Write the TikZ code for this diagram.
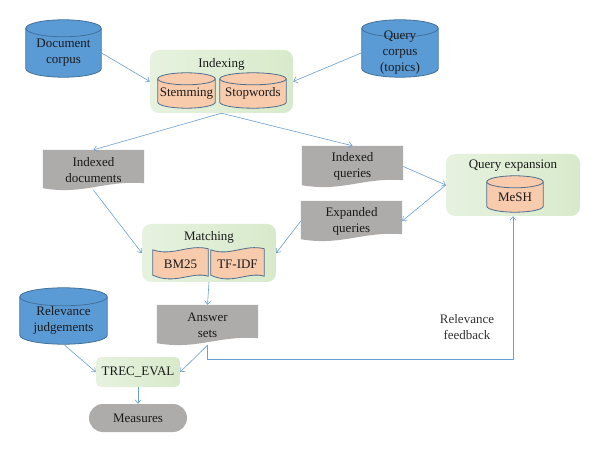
\documentclass[tikz,border=0pt]{standalone}
\usepackage{fontspec}
\setmainfont{Liberation Serif}
\usetikzlibrary{calc,arrows.meta}
\pgfdeclarelayer{back}
\pgfdeclarelayer{mid}
\pgfsetlayers{back,mid,main}
\definecolor{cblue}{HTML}{5B9BD5}
\definecolor{cbluedark}{HTML}{41719C}
\definecolor{peach}{HTML}{F8CBAD}
\definecolor{pdraw}{HTML}{4E6E8E}
\definecolor{docgray}{HTML}{AEABAB}
\definecolor{greenA}{HTML}{E6F2DF}
\definecolor{greenB}{HTML}{D8EACB}
\definecolor{arrowblue}{HTML}{6A9FD4}
\definecolor{txt}{HTML}{1A1A1A}
\newcommand\cylshape[4]{% node, fill, draw, ry
  \path[fill=#2,draw=#3,line width=0.8pt] let \p1=(#1.south west), \p2=(#1.north east), \n1={(\x2-\x1)/2} in
    (\x1,\y2) -- (\x1,\y1+#4) arc[start angle=180,end angle=360,x radius=\n1,y radius=#4]
    -- (\x2,\y2) arc[start angle=0,end angle=180,x radius=\n1,y radius=#4] -- cycle;
  \path[draw=#3,line width=0.8pt] let \p1=(#1.south west), \p2=(#1.north east), \n1={(\x2-\x1)/2} in
    (\x1,\y2) arc[start angle=180,end angle=360,x radius=\n1,y radius=#4];
}
\newcommand\docshape[1]{%
  \path[fill=docgray] let \p1=(#1.south west), \p2=(#1.north east), \n1={\x2-\x1} in
    (\x1,\y2) -- (\x2,\y2) -- (\x2,\y1+7pt) .. controls (\x1+0.6*\n1,\y1+10pt) and (\x1+0.4*\n1,\y1-5pt) .. (\x1,\y1+2pt) -- cycle;
}
\newcommand\tapeshape[1]{%
  \path[fill=peach,draw=pdraw,line width=0.8pt] let \p1=(#1.south west), \p2=(#1.north east), \n1={\x2-\x1} in
    (\x1,\y2-2pt) .. controls (\x1+0.35*\n1,\y2-9pt) and (\x1+0.65*\n1,\y2+4pt) .. (\x2,\y2-1pt)
    -- (\x2,\y1+4pt) .. controls (\x1+0.7*\n1,\y1+9pt) and (\x1+0.4*\n1,\y1-5pt) .. (\x1,\y1+5pt) -- cycle;
}
\tikzset{
  base/.style={font=\fontsize{13}{16}\selectfont, text=txt, align=center, inner sep=0pt},
  cylnode/.style={base, minimum width=#1},
  docnode/.style={base, minimum width=101pt, minimum height=40pt},
  greenbox/.style={rounded corners=9pt, left color=greenA, right color=greenB, draw=none},
  conn/.style={draw=arrowblue, line width=0.6pt, -{Straight Barb[length=3.5pt,width=6pt]}},
}
\begin{document}
\begin{tikzpicture}[x=1pt,y=1pt]
\begin{pgfonlayer}{back}
\fill[white] (0,0) rectangle (600,453);
\end{pgfonlayer}
\useasboundingbox (0,0) rectangle (600,453);

% green containers
\begin{pgfonlayer}{back}
\node[greenbox, minimum width=143pt, minimum height=63pt] (idx) at (221.5,371.5) {};
\node[greenbox, minimum width=134pt, minimum height=62pt] (qe) at (513,268) {};
\node[greenbox, minimum width=134pt, minimum height=58pt] (match) at (209,200) {};
\node[greenbox, rounded corners=5pt, minimum width=84pt, minimum height=30pt] (trec) at (138,81) {};
\end{pgfonlayer}

% container labels
\node[base] (idxL) at (221.5,389) {Indexing};
\node[base] (qeL) at (513,287) {Query expansion};
\node[base] (matchL) at (209,216) {Matching};
\node[base] (trecL) at (trec.center) {TREC\_EVAL};

% cylinders
\node[cylnode=75pt, minimum height=48.5pt] (doc) at (63.5,400.25) {Document\\corpus};
\node[cylnode=76pt, minimum height=48.5pt] (qc) at (400,400.25) {Query\\corpus\\(topics)};
\node[cylnode=57pt, minimum height=29pt] (stem) at (186.5,359.5) {Stemming};
\node[cylnode=66pt, minimum height=29pt] (stop) at (253,359.5) {Stopwords};
\node[cylnode=56pt, minimum height=30pt] (mesh) at (515,256) {MeSH};
\node[cylnode=87pt, minimum height=47pt] (rel) at (63.5,132.5) {Relevance\\judgements};

% documents
\node[docnode] (idoc) at (93.5,283) {Indexed\\documents};
\node[docnode, minimum height=41pt] (iq) at (352.5,286.5) {Indexed\\queries};
\node[docnode] (eq) at (351.5,232) {Expanded\\queries};
\node[docnode] (ans) at (207.5,128) {Answer\\sets};

% tapes
\node[base, minimum width=55pt, minimum height=32pt] (bm) at (180.5,189) {BM25};
\node[base, minimum width=53pt, minimum height=32pt] (tf) at (237.5,189) {TF-IDF};

% measures
\node[base, fill=docgray, rounded corners=14pt, minimum width=98pt, minimum height=28pt] (meas) at (138,35) {Measures};

% feedback label
\node[base, text=black!80] (fbL) at (467,126) {Relevance\\feedback};

\begin{pgfonlayer}{mid}
\cylshape{doc}{cblue}{cbluedark}{8.5pt}
\cylshape{qc}{cblue}{cbluedark}{8.5pt}
\cylshape{rel}{cblue}{cbluedark}{9pt}
\cylshape{stem}{peach}{pdraw}{6pt}
\cylshape{stop}{peach}{pdraw}{6pt}
\cylshape{mesh}{peach}{pdraw}{6pt}
\docshape{idoc}
\docshape{iq}
\docshape{eq}
\docshape{ans}
\tapeshape{bm}
\tapeshape{tf}
\end{pgfonlayer}

% connectors
\coordinate (fb) at (513,94);
\draw[conn] (doc.east) -- (idx.west);
\draw[conn] (qc.west) -- (idx.east);
\draw[conn] (idx.south) -- (idoc.north);
\draw[conn] (idx.south) -- (iq.north);
\draw[conn] (idoc.south) -- (match.west);
\draw[conn] (iq.east) -- (qe.west);
\draw[conn] (qe.west) -- (eq.east);
\draw[conn] (eq.west) -- (match.east);
\draw[conn] (match.south) -- (ans.north);
\draw[conn] (rel.south) -- (trec.west);
\draw[conn] (ans.south) -- (trec.east);
\draw[conn] (trec.south) -- (meas.north);
\draw[conn] (ans.south) |- (fb) -- (qe.south);
\end{tikzpicture}
\end{document}
